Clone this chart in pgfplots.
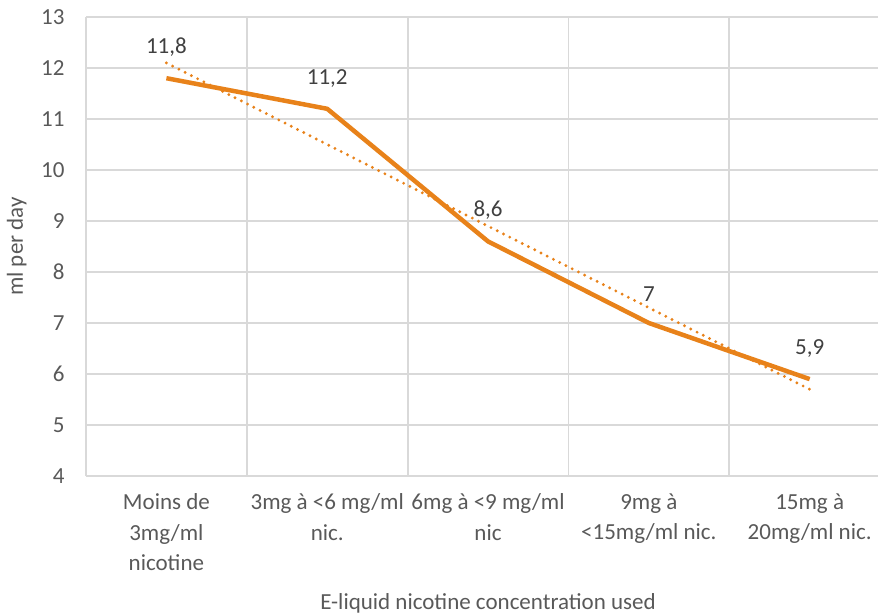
\documentclass[border=0pt]{standalone}
\usepackage{fontspec}
\setmainfont{Carlito}
\usepackage{pgfplots}
\pgfplotsset{compat=1.18}
\definecolor{lineorange}{HTML}{E8821A}
\definecolor{gridgrey}{HTML}{D9D9D9}
\definecolor{labgrey}{HTML}{595959}
\definecolor{datgrey}{HTML}{404040}
\begin{document}
\begin{tikzpicture}[x=1pt,y=1pt]
\useasboundingbox (0,0) rectangle (878,614);
\begin{axis}[
  at={(86pt,138pt)}, anchor=south west,
  scale only axis,
  width=792pt, height=459pt,
  xmin=-0.5, xmax=4.425,
  ymin=4, ymax=13,
  ytick={4,5,...,13},
  xtick={0,1,2,3,4},
  xticklabels={{Moins de\\3mg/ml\\nicotine},{3mg à <6 mg/ml\\nic.},{6mg à <9 mg/ml\\nic},{9mg à\\<15mg/ml nic.},{15mg à\\20mg/ml nic.}},
  minor xtick={-0.5,0.5,1.5,2.5,3.5,4.5},
  xminorgrids, ymajorgrids,
  grid style={gridgrey, line width=1.8pt},
  minor grid style={gridgrey, line width=1.8pt},
  axis x line*=bottom, axis y line*=left,
  axis line style={gridgrey, line width=1.8pt, -},
  major tick length=0, minor tick length=0,
  tick label style={font=\fontsize{23}{30.5}\selectfont, text=labgrey},
  xticklabel style={align=center, yshift=-14pt},
  yticklabel style={xshift=-18pt},
  /pgf/number format/assume math mode=true,
  clip=false,
]
\addplot[lineorange, line width=3.2pt, dash pattern=on 0pt off 7pt, line cap=round] coordinates {(0,12.1) (4,5.7)};
\addplot[lineorange, line width=4.5pt, line join=round,
  nodes near coords,
  every node near coord/.append style={font=\fontsize{23}{28}\selectfont, text=datgrey, anchor=south, yshift=16pt},
  /pgf/number format/use comma,
  /pgf/number format/assume math mode=true,
] coordinates {(0,11.8) (1,11.2) (2,8.6) (3,7) (4,5.9)};
\node[font=\fontsize{23}{28}\selectfont, text=labgrey] at (axis cs:2,1.5) {E-liquid nicotine concentration used};
\node[font=\fontsize{23}{28}\selectfont, text=labgrey, rotate=90] at (axis cs:-0.93,8.5) {ml per day};
\end{axis}
\end{tikzpicture}
\end{document}
